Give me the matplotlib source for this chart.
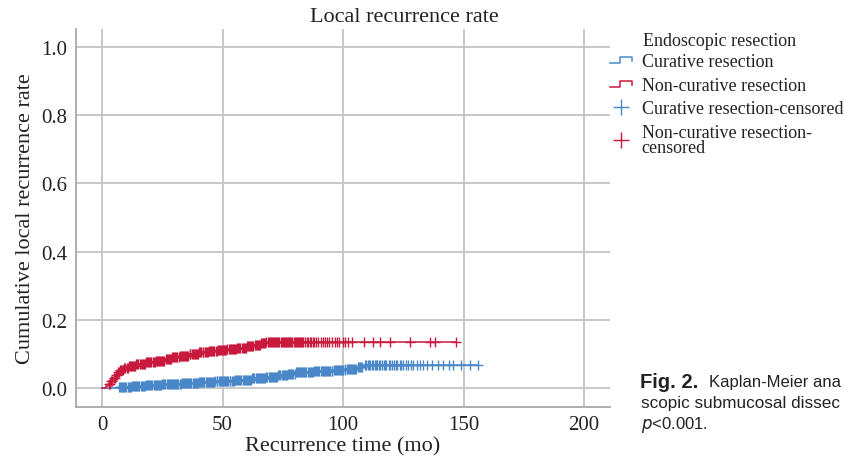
import numpy as np
import matplotlib
matplotlib.use("Agg")
import matplotlib.pyplot as plt
from matplotlib.lines import Line2D
from matplotlib.legend_handler import HandlerBase


# Kaplan-Meier step points (time in months, cumulative recurrence)
cur_times = [0, 7, 12, 18, 25, 33, 40, 47, 55, 62, 68, 73, 77, 80, 88, 96, 101, 106, 109]
cur_rate = [0, 0.003, 0.006, 0.009, 0.012, 0.015, 0.018, 0.021, 0.024, 0.028,
            0.032, 0.037, 0.042, 0.046, 0.049, 0.052, 0.055, 0.060, 0.068]

non_times = [0, 1.5, 2.5, 3.5, 4.5, 5.5, 6.5, 7.5, 9, 11, 14, 18, 22, 26, 29, 32,
             36, 40, 44, 48, 52, 56, 60, 63, 66, 68]
non_rate = [0, 0.005, 0.012, 0.020, 0.030, 0.038, 0.046, 0.053, 0.059, 0.065,
            0.070, 0.075, 0.079, 0.085, 0.090, 0.095, 0.100, 0.104, 0.108, 0.111,
            0.114, 0.118, 0.122, 0.126, 0.131, 0.134]

# censored observations (months)
cur_cens = [float(v) for v in """
7.0 7.4 7.9 8.3 8.8 9.2 9.7 10.1 10.6 11.0 11.5 11.9 12.4 12.8 13.3 13.7 14.2 14.6
15.1 15.5 16.0 16.4 16.9 17.3 17.8 18.2 18.7 19.1 19.6 20.0 20.5 20.9 21.4 21.8 22.3
22.7 23.2 23.6 24.1 24.5 25.0 25.4 25.9 26.3 26.8 27.2 27.7 28.1 28.6 29.0 29.5 29.9
30.4 30.8 31.3 31.7 32.2 32.6 33.1 33.5 34.0 34.4 34.9 35.3 35.8 36.2 36.7 37.1 37.6
38.0 38.5 38.9 39.4 39.8 40.3 40.7 41.2 41.6 42.1 42.5 43.0 43.4 43.9 44.3 44.8 45.2
45.7 46.1 46.6 47.0 47.5 47.9 48.4 48.8 49.3 49.7 50.2 50.6 51.1 51.5 52.0 52.4 52.9
53.3 53.8 54.2 54.7 55.1 55.6 56.0 56.5 56.9 57.4 57.8 58.3 58.7 59.2 59.6 60.1 60.5
61.0 61.4 61.9 62.3 62.8 63.2 63.7 64.1 64.6 65.0 65.5 65.9 66.4 66.8 67.3 67.7 68.2
68.6 69.1 69.5 70.0 70.4 70.9 71.3 71.8 72.2 72.7 73.1 73.6 74.0 74.5 74.9 75.4 75.8
76.3 76.7 77.2 77.6 78.1 78.5 79.0 79.4 79.9 80.3 80.8 81.2 81.7 82.1 82.6 83.0 83.5
83.9 84.4 84.8 85.3 85.7 86.2 86.6 87.1 87.5 88.0 88.4 88.9 89.3 89.8 90.2 90.7 91.1
91.6 92.0 92.5 92.9 93.4 93.8 94.3 94.7 95.2 95.6 96.1 96.5 97.0 97.4 97.9 98.3 98.8
99.2 99.7 100.1 100.6 101.0 101.5 101.9 102.4 102.8 103.3 103.7 104.2 104.6 105.1
105.5 106.0 106.4 106.9 107.3 107.8 109.0 109.5 110.2 110.7 111.3 111.9 112.4 113.1
113.6 114.2 114.9 115.3 116.1 116.8 117.4 118.0 118.9 119.6 120.2 121.0 121.8 122.5
123.4 124.2 125.0 126.1 127.0 128.0 129.0 130.7 132.0 133.0 135.0 137.0 139.5 141.5
144.0 145.6 149.0 152.7 156.0
""".split()]

non_cens = [float(v) for v in """
3.0 3.4 3.9 4.3 4.8 5.2 5.7 6.1 6.6 7.0 7.5 7.9 8.4 8.8 9.3 9.7 10.2 10.6 11.1 11.5
12.0 12.4 12.9 13.3 13.8 14.2 14.7 15.1 15.6 16.0 16.5 16.9 17.4 17.8 18.3 18.7 19.2
19.6 20.1 20.5 21.0 21.4 21.9 22.3 22.8 23.2 23.7 24.1 24.6 25.0 25.5 25.9 26.4 26.8
27.3 27.7 28.2 28.6 29.1 29.5 30.0 30.4 30.9 31.3 31.8 32.2 32.7 33.1 33.6 34.0 34.5
34.9 35.4 35.8 36.3 36.7 37.2 37.6 38.1 38.5 39.0 39.4 39.9 40.3 40.8 41.2 41.7 42.1
42.6 43.0 43.5 43.9 44.4 44.8 45.3 45.7 46.2 46.6 47.1 47.5 48.0 48.4 48.9 49.3 49.8
50.2 50.7 51.1 51.6 52.0 52.5 52.9 53.4 53.8 54.3 54.7 55.2 55.6 56.1 56.5 57.0 57.4
57.9 58.3 58.8 59.2 59.7 60.1 60.6 61.0 61.5 61.9 62.4 62.8 63.3 63.7 64.2 64.6 65.1
65.5 66.0 66.4 66.9 67.3 67.8 68.2 68.7 69.1 69.6 70.0 70.5 70.9 71.4 71.8 72.3 72.7
73.2 73.6 74.1 74.5 75.0 75.4 75.9 76.3 76.8 77.2 77.7 78.1 78.6 79.0 79.5 79.9 80.4
80.8 81.3 81.7 82.2 82.6 83.1 83.5 84.0 84.9 85.3 86.2 86.6 87.5 88.0 88.9 89.8 90.7
91.6 92.5 93.4 94.3 95.2 96.6 97.5 98.4 99.8 100.7 102.1 103.5 108.5 112.6 115.3
119.6 127.8 136.2 138.0 147.0
""".split()]

x_ticks = [0, 50, 100, 150, 200]
y_ticks = [0.0, 0.2, 0.4, 0.6, 0.8, 1.0]

BLUE = "#4a87c9"
RED = "#c9193d"
GRID = "#c4c4c4"
SERIF = "Liberation Serif"
SANS = "Liberation Sans"


class StepHandler(HandlerBase):
    def create_artists(self, legend, orig, xd, yd, w, h, fontsize, trans):
        xs = np.array([0, 0.45, 0.45, 1.0, 1.0]) * w - xd
        ys = np.array([0.25, 0.25, 0.7, 0.7, 0.4]) * h - yd
        ln = Line2D(xs, ys, color=orig.get_color(), lw=1.1, transform=trans)
        return [ln]


def step_value(t, times, rates):
    idx = np.searchsorted(times, t, side="right") - 1
    return np.asarray(rates)[idx]


fig = plt.figure(figsize=(8.44, 4.6), dpi=100)
ax = fig.add_axes([0.090, 0.113, 0.633, 0.822])

# curves
cur_end = max(cur_cens)
non_end = max(non_cens)
ax.step(cur_times + [cur_end], cur_rate + [cur_rate[-1]], where="post", color=BLUE, lw=1.1)
ax.step(non_times + [non_end], non_rate + [non_rate[-1]], where="post", color=RED, lw=1.1)

ax.plot(cur_cens, step_value(cur_cens, cur_times, cur_rate), ls="none", marker="+",
        color=BLUE, ms=7, mew=1.0)
ax.plot(non_cens, step_value(non_cens, non_times, non_rate), ls="none", marker="+",
        color=RED, ms=6.5, mew=1.0)

ax.set_xlim(-10.8, 210.8)
ax.set_ylim(-0.056, 1.053)
ax.set_xticks(x_ticks)
ax.set_yticks(y_ticks)
ax.set_yticklabels(["%.1f" % v for v in y_ticks])
ax.grid(True, color=GRID, lw=1.3)
ax.set_axisbelow(True)
ax.tick_params(length=0, labelsize=15, labelcolor="#222222", pad=6)
for lab in ax.get_xticklabels() + ax.get_yticklabels():
    lab.set_family(SERIF)
for s in ["top", "right"]:
    ax.spines[s].set_visible(False)
for s in ["left", "bottom"]:
    ax.spines[s].set_color("#a8a8a8")
    ax.spines[s].set_linewidth(1.3)

ax.set_xlabel("Recurrence time (mo)", family=SERIF, fontsize=16, color="#222222", labelpad=1)
ax.set_ylabel("Cumulative local recurrence rate", family=SERIF, fontsize=16, color="#222222", labelpad=5)
fig.text(404 / 844, 1 - 17 / 460, "Local recurrence rate", family=SERIF, fontsize=16,
         color="#222222", ha="center", va="center")

# legend
h1 = Line2D([], [], color=BLUE)
h2 = Line2D([], [], color=RED)
h3 = Line2D([], [], color=BLUE, ls="none", marker="+", ms=12, mew=1.0)
h4 = Line2D([], [], color=RED, ls="none", marker="+", ms=12, mew=1.0)
fig.text(643 / 844, 1 - 41 / 460, "Endoscopic resection", family=SERIF, fontsize=13,
         color="#222222", ha="left", va="center")
leg = fig.legend([h1, h2, h3, h4],
                 ["Curative resection", "Non-curative resection",
                  "Curative resection-censored", "Non-curative resection-\ncensored"],
                 loc="upper left", bbox_to_anchor=(610 / 844, 1 - 54 / 460),
                 frameon=False, prop={"family": SERIF, "size": 13},
                 handlelength=1.2, handletextpad=0.55, labelspacing=0.37,
                 borderpad=0, borderaxespad=0,
                 handler_map={h1: StepHandler(), h2: StepHandler()})
for t in leg.get_texts():
    t.set_color("#222222")
    t.set_linespacing(0.85)

# caption fragment visible at the right edge of the page
fig.text(640 / 844, 1 - 383 / 460, "Fig. 2.", family=SANS, fontweight="bold",
         fontsize=14.5, color="#222222", ha="left", va="center")
fig.text(709 / 844, 1 - 383 / 460, "Kaplan-Meier ana", family=SANS,
         fontsize=12, color="#222222", ha="left", va="center")
fig.text(641 / 844, 1 - 404 / 460, "scopic submucosal dissec", family=SANS,
         fontsize=12.3, color="#222222", ha="left", va="center")
fig.text(641 / 844, 1 - 425 / 460, "$p$<0.001.", family=SANS,
         fontsize=12, color="#222222", ha="left", va="center")

fig.savefig("out.png", dpi=100)
